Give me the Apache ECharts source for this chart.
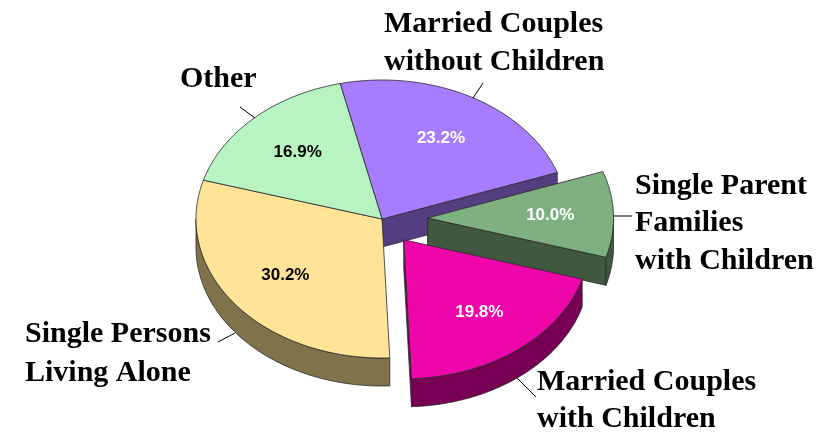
<!DOCTYPE html>
<html>
<head>
<meta charset="utf-8">
<script src="https://cdn.jsdelivr.net/npm/echarts@6/dist/echarts.min.js"></script>
<style>
html, body { margin: 0; background: #fff; }
#chart { width: 834px; height: 434px; }
</style>
</head>
<body>
<div id="chart"></div>
<script>
var categories = [
    'Married Couples\nwithout Children',
    'Single Parent\nFamilies\nwith Children',
    'Married Couples\nwith Children',
    'Single Persons\nLiving Alone',
    'Other'
];
var shares = [23.2, 10.0, 19.8, 30.2, 16.9];

// looks
var topColors = ['#a77cff', '#7fb07f', '#ee06aa', '#ffe497', '#b8f4c2'];
var sideColors = ['#533e80', '#3f583f', '#770055', '#80724b', '#5c7a61'];
var pctColors = ['#fff', '#fff', '#fff', '#000', '#000'];
var explode = [0, 0.245, 0.19, 0, 0];
var labelBoxes = [
    { x: 384, y: 5, lh: 38, line: [483, 83, 473, 98] },
    { x: 635, y: 167, lh: 37.5, line: [632, 216, 613, 216] },
    { x: 537, y: 364, lh: 37, line: [536, 397, 517, 378] },
    { x: 25, y: 315, lh: 39, line: [235, 333, 218, 342] },
    { x: 180, y: 60, lh: 38, line: [240, 107, 255, 118] }
];

var cx = 382, cy = 219, rx = 186, ry = 139, depth = 28, startDeg = -13;
var total = shares.reduce(function (a, b) { return a + b; }, 0);

function sliceAngles(i) {
    var a0 = startDeg;
    for (var j = 0; j < i; j++) a0 += shares[j] / total * 360;
    return [a0, a0 + shares[i] / total * 360];
}
function pt(ox, oy, deg, r, dz) {
    var t = deg * Math.PI / 180;
    return [ox + rx * r * Math.sin(t), oy - ry * r * Math.cos(t) + (dz || 0)];
}
function arc(ox, oy, a0, a1, dz) {
    var pts = [];
    var n = Math.max(2, Math.ceil(Math.abs(a1 - a0)));
    for (var k = 0; k <= n; k++) pts.push(pt(ox, oy, a0 + (a1 - a0) * k / n, 1, dz));
    return pts;
}
function sliceCenter(i) {
    var a = sliceAngles(i);
    return pt(cx, cy, (a[0] + a[1]) / 2, explode[i]);
}
var edge = { stroke: '#2a2a2a', lineWidth: 0.8 };

function renderSides(params, api) {
    var i = params.dataIndex;
    var a = sliceAngles(i);
    var c = sliceCenter(i);
    var kids = [];
    var fill = sideColors[i];
    function wall(deg) {
        var r = pt(c[0], c[1], deg, 1);
        kids.push({
            type: 'polygon',
            shape: { points: [c, r, [r[0], r[1] + depth], [c[0], c[1] + depth]] },
            style: Object.assign({ fill: fill }, edge)
        });
    }
    if (Math.sin(a[0] * Math.PI / 180) < 0) wall(a[0]);
    if (Math.sin(a[1] * Math.PI / 180) > 0) wall(a[1]);
    var s = Math.max(a[0], 90), e = Math.min(a[1], 270);
    if (e > s) {
        var top = arc(c[0], c[1], s, e, 0);
        var bot = arc(c[0], c[1], e, s, depth);
        kids.push({
            type: 'polygon',
            shape: { points: top.concat(bot) },
            style: Object.assign({ fill: fill }, edge)
        });
    }
    return { type: 'group', children: kids };
}

function renderTops(params, api) {
    var i = params.dataIndex;
    var a = sliceAngles(i);
    var c = sliceCenter(i);
    var lp = pt(c[0], c[1], (a[0] + a[1]) / 2, 0.66);
    var box = labelBoxes[i];
    return {
        type: 'group',
        children: [
            {
                type: 'polygon',
                shape: { points: [c].concat(arc(c[0], c[1], a[0], a[1], 0)) },
                style: Object.assign({ fill: topColors[i] }, edge)
            },
            {
                type: 'text',
                style: {
                    text: api.value(0).toFixed(1) + '%',
                    x: lp[0], y: lp[1],
                    align: 'center', verticalAlign: 'middle',
                    font: 'bold 17px "Liberation Sans"',
                    fill: pctColors[i]
                }
            },
            {
                type: 'line',
                shape: { x1: box.line[0], y1: box.line[1], x2: box.line[2], y2: box.line[3] },
                style: { stroke: '#000', lineWidth: 1 }
            },
            {
                type: 'text',
                style: {
                    text: categories[i],
                    x: box.x, y: box.y,
                    align: 'left', verticalAlign: 'top',
                    font: 'bold 30px "Liberation Serif"',
                    lineHeight: box.lh,
                    fill: '#000'
                }
            }
        ]
    };
}

var chart = echarts.init(document.getElementById('chart'));
var pieData = shares.map(function (v, i) { return { name: categories[i], value: v }; });
chart.setOption({
    animation: false,
    backgroundColor: '#fff',
    series: [
        { type: 'custom', coordinateSystem: 'none', z: 1, renderItem: renderSides, data: pieData },
        { type: 'custom', coordinateSystem: 'none', z: 2, renderItem: renderTops, data: pieData }
    ]
});
</script>
</body>
</html>
